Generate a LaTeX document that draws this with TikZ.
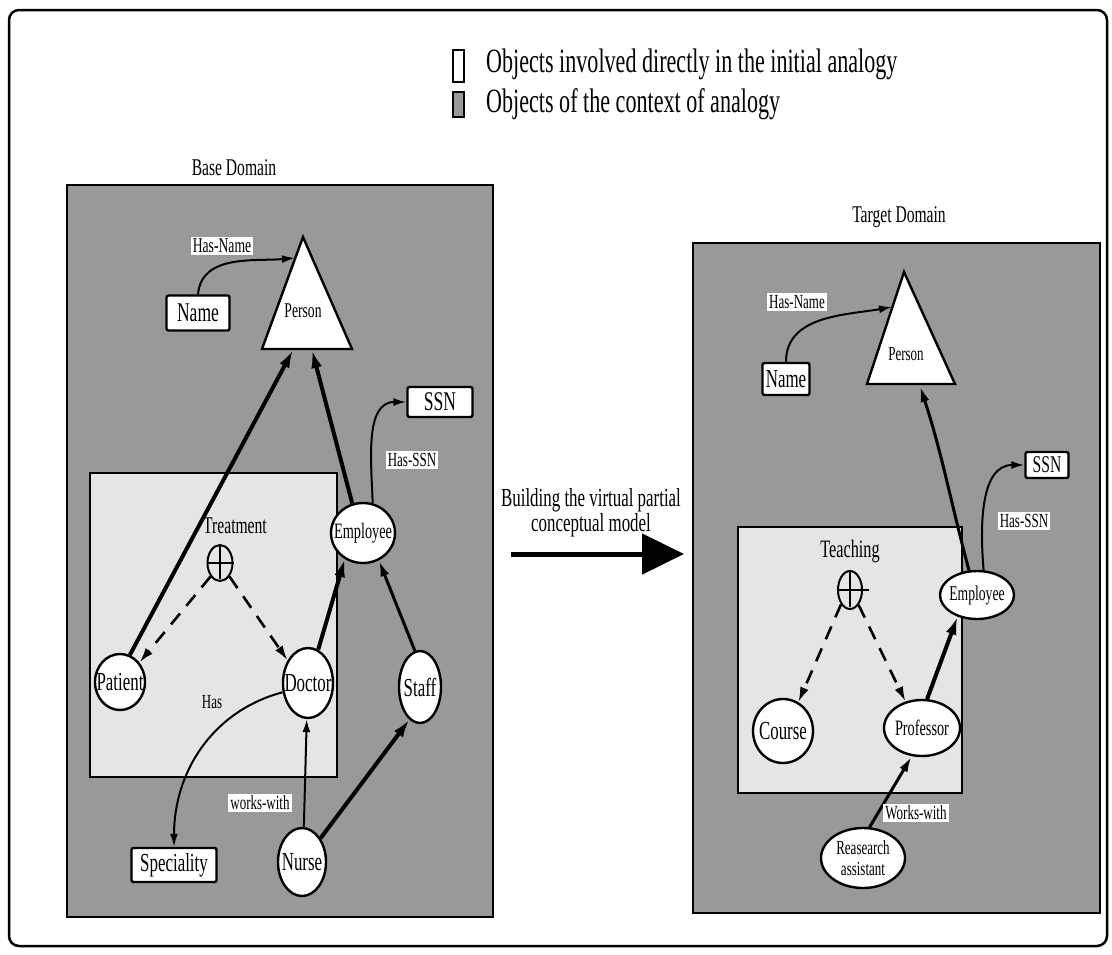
\documentclass[tikz,border=0pt]{standalone}
\usepackage{fontspec}
\setmainfont{Liberation Serif}[FakeStretch=0.65]
\usetikzlibrary{arrows.meta,shapes.geometric}
\newcommand\myfs[1]{\fontsize{#1}{#1}\selectfont}
\definecolor{ctxgray}{gray}{0.6}
\definecolor{innergray}{gray}{0.9}
\begin{document}
\begin{tikzpicture}[x=1pt,y=-1pt,
  obj/.style={draw,fill=white,line width=2.4pt,inner sep=0pt},
  ell/.style={obj,ellipse},
  objbox/.style={obj,rectangle,rounded corners=2pt,inner sep=3pt},
  edgelab/.style={fill=white,inner sep=2pt},
  tarr/.style={line width=4pt,-{Latex[length=18pt,width=11pt]}},
  marr/.style={line width=3pt,-{Latex[length=16pt,width=9pt]}},
  narr/.style={line width=2pt,-{Latex[length=13pt,width=8pt]}},
  darr/.style={line width=2.6pt,dash pattern=on 14pt off 10pt,-{Latex[length=15pt,width=9pt]}},
  thetasym/.style={draw,ellipse,line width=2pt,inner sep=0pt}]
\useasboundingbox (0,0) rectangle (1112,954);
% outer frame
\draw[line width=2.5pt,rounded corners=10pt] (9,10) rectangle (1107,946);
% legend
\node[draw,line width=2.5pt,fill=white,minimum width=11,minimum height=32,inner sep=0] (legW) at (458.5,66) {};
\node[draw,line width=2pt,fill=ctxgray,minimum width=11,minimum height=25,inner sep=0] (legG) at (458.5,104.5) {};
\node[anchor=west,font=\myfs{34},inner sep=0] (legWt) at (486,64) {Objects involved directly in the initial analogy};
\node[anchor=west,font=\myfs{34},inner sep=0] (legGt) at (486,104) {Objects of the context of analogy};
% domains
\node[font=\myfs{24}] (baseT) at (234,168) {Base Domain};
\node[font=\myfs{24}] (targT) at (899,217) {Target Domain};
\draw[line width=2.5pt,fill=ctxgray] (67,185) rectangle (493,917);
\draw[line width=2.5pt,fill=innergray] (90,473) rectangle (337,777);
\draw[line width=2.5pt,fill=ctxgray] (693,243) rectangle (1100,913);
\draw[line width=2.5pt,fill=innergray] (738,527) rectangle (962,793);
% middle arrow
\node[font=\myfs{26},align=center,inner sep=0] (buildT) at (591,513) {Building the virtual partial\\[-1pt]conceptual model};
\coordinate (arrS) at (511,554);
\coordinate (arrE) at (684,554);
\draw[line width=5pt,-{Triangle[length=42pt,width=40pt]}] (arrS) -- (arrE);
% ---------- base domain ----------
\draw[obj] (303,237) -- (352,349) -- (262,349) -- cycle;
\node[font=\myfs{21}] (personL) at (303,311) {Person};
\coordinate (PLb1) at (293,350);
\coordinate (PLb2) at (312,350);
\coordinate (PLside) at (295,258);
\node[objbox,minimum width=63,minimum height=35,font=\myfs{27}] (nameL) at (198,313) {Name};
\node[objbox,minimum width=65,minimum height=30,font=\myfs{27}] (ssnL) at (440,402) {SSN};
\node[objbox,minimum width=85,minimum height=34,font=\myfs{26}] (specL) at (174,865) {Speciality};
\node[ell,minimum width=64,minimum height=60,label={[font=\myfs{22}]center:Employee}] (empL) at (363,533) {};
\node[ell,minimum width=50,minimum height=56,label={[font=\myfs{26}]center:Patient}] (patL) at (120,682) {};
\node[ell,minimum width=50,minimum height=70,label={[font=\myfs{26}]center:Doctor}] (docL) at (308,683) {};
\node[ell,minimum width=42,minimum height=72,label={[font=\myfs{26}]center:Staff}] (staffL) at (420,687) {};
\node[ell,minimum width=48,minimum height=68,label={[font=\myfs{26}]center:Nurse}] (nurseL) at (302,862) {};
\node[font=\myfs{24},inner sep=0] (treatL) at (235,526) {Treatment};
\node[thetasym,minimum width=25,minimum height=36] (thL) at (220,563) {};
\draw[line width=2pt] (thL.north) -- ([yshift=3pt]thL.south);
\draw[line width=2pt] (thL.west) -- (thL.east);
% edges
\draw[tarr] (patL.70) -- (PLb1);
\draw[tarr] (empL.110) -- (PLb2);
\draw[narr] (nameL.north) to[out=85,in=185] (PLside);
\draw[narr] (empL.72) to[out=92,in=180] (ssnL.west);
\draw[tarr] (docL.73) -- (empL.235);
\draw[marr] (staffL.98) -- (empL.300);
\draw[narr] (docL.200) to[out=195,in=90] (specL.north);
\draw[narr] (nurseL.87) -- (docL.268);
\draw[tarr] (nurseL.52) -- (staffL.252);
\draw[darr] (thL.235) -- (patL.45);
\draw[darr] (thL.-55) -- (docL.132);
% edge labels
\node[edgelab,font=\myfs{21}] (hasNameL) at (222,246) {Has-Name};
\node[edgelab,font=\myfs{20}] (hasSSNL) at (412,460) {Has-SSN};
\node[font=\myfs{20},inner sep=0] (hasL) at (212,702) {Has};
\node[edgelab,font=\myfs{20}] (worksL) at (260,803) {works-with};
% ---------- target domain ----------
\draw[obj] (904,272) -- (955,384) -- (867,384) -- cycle;
\node[font=\myfs{20}] (personR) at (906,354) {Person};
\coordinate (PRb) at (920,386);
\coordinate (PRside) at (892,307);
\node[objbox,minimum width=47,minimum height=32,font=\myfs{26},inner sep=1pt] (nameR) at (786,379) {Name};
\node[objbox,minimum width=43,minimum height=26,font=\myfs{24},inner sep=1pt] (ssnR) at (1047,465) {SSN};
\node[ell,minimum width=74,minimum height=48,label={[font=\myfs{21}]center:Employee}] (empR) at (977,595) {};
\node[ell,minimum width=60,minimum height=64,label={[font=\myfs{26}]center:Course}] (courseR) at (783,731) {};
\node[ell,minimum width=76,minimum height=56,label={[font=\myfs{22}]center:Professor}] (profR) at (922,728) {};
\node[ell,minimum width=84,minimum height=60,label={[font=\myfs{20},align=center]center:Reasearch\\[1pt]assistant}] (raR) at (863,858) {};
\node[font=\myfs{25},inner sep=0] (teachR) at (850,552) {Teaching};
\node[thetasym,minimum width=24,minimum height=38] (thR) at (850,590) {};
\draw[line width=2pt] (thR.north) -- ([yshift=3pt]thR.south);
\draw[line width=2pt] (thR.west) -- ([xshift=6pt]thR.east);
% edges
\draw[marr] (empR.108) to[out=105,in=-72] (PRb);
\draw[narr] (empR.75) to[out=95,in=180] (ssnR.west);
\draw[narr] (nameR.north) to[out=90,in=190] (PRside);
\draw[tarr] (profR.80) -- (empR.228);
\draw[marr] (raR.78) -- (profR.250);
\draw[darr] (thR.238) -- (courseR.62);
\draw[darr] (thR.-60) -- (profR.122);
% edge labels
\node[edgelab,font=\myfs{20}] (hasNameR) at (797,302) {Has-Name};
\node[edgelab,font=\myfs{20}] (hasSSNR) at (1024,521) {Has-SSN};
\node[edgelab,font=\myfs{20}] (worksR) at (916,813) {Works-with};
\end{tikzpicture}
\end{document}
